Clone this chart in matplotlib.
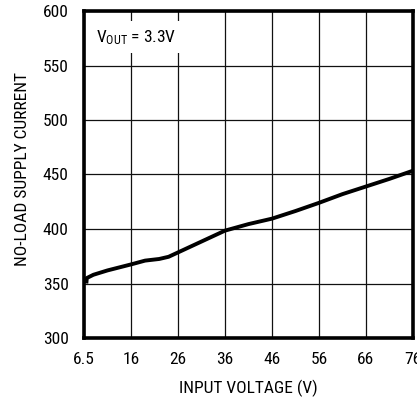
import matplotlib.pyplot as plt

# Corrente sem carga vs tensao de entrada
vin = [6.5, 6.6, 8, 11, 16, 19, 22, 24, 26, 31, 36, 41, 46, 51, 56, 61, 66, 71, 76]
iq = [350, 355, 358, 362, 367.5, 371, 372.5, 374.5, 378.5, 388.5, 398.5, 404.5, 409.5, 416.5, 424, 432, 439, 446, 453.5]

xticks = [6, 16, 26, 36, 46, 56, 66, 76]
xlabels = ['6.5', '16', '26', '36', '46', '56', '66', '76']
yticks = [300, 350, 400, 450, 500, 550, 600]

plt.rcParams['font.family'] = ['Roboto Condensed', 'DejaVu Sans']
plt.rcParams['mathtext.fontset'] = 'custom'
plt.rcParams['mathtext.rm'] = 'Roboto Condensed'
plt.rcParams['mathtext.it'] = 'Roboto Condensed'

fig = plt.figure(figsize=(4.17, 4.0), dpi=100)
ax = fig.add_axes([0.2014, 0.155, 0.7890, 0.8175])

ax.plot(vin, iq, color='black', linewidth=2.8, solid_capstyle='butt', zorder=3)

ax.set_xlim(6, 76)
ax.set_ylim(300, 600)
ax.set_xticks(xticks)
ax.set_xticklabels(xlabels)
ax.set_yticks(yticks)
ax.grid(True, color='#111111', linewidth=0.9)
ax.tick_params(length=0, labelsize=12.5)
ax.tick_params(axis='x', pad=10)
ax.tick_params(axis='y', pad=11)

for s in ax.spines.values():
    s.set_linewidth(2.6)
    s.set_zorder(4)

ax.set_xlabel('INPUT VOLTAGE (V)', fontsize=12.5, va='center')
ax.xaxis.set_label_coords(0.5, -0.153)
ax.set_ylabel('NO-LOAD SUPPLY CURRENT', fontsize=12.5, va='center')
ax.yaxis.set_label_coords(-0.188, 0.517)

ax.text(8.6, 576, r'$\mathregular{V_{OUT}}$ = 3.3V', fontsize=12.5, va='center', ha='left',
        bbox=dict(facecolor='white', edgecolor='none', pad=5), zorder=2)

fig.savefig('out.png', dpi=100)
